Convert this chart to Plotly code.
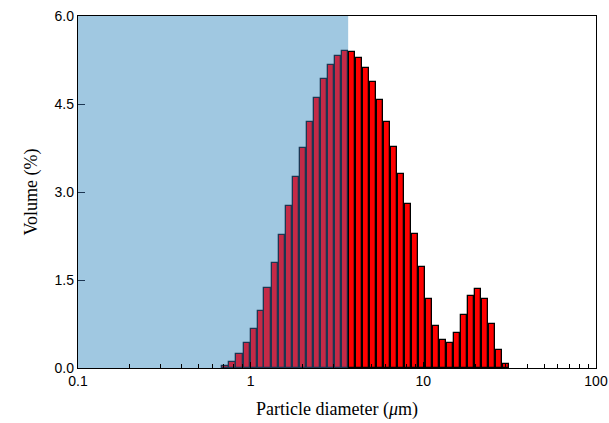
import plotly.graph_objects as go

# Particle size bins (µm, bin centres) and volume fractions (%)
diameters = [0.716, 0.786, 0.863, 0.948, 1.041, 1.143, 1.254, 1.377, 1.512, 1.661,
             1.823, 2.002, 2.198, 2.413, 2.650, 2.909, 3.194, 3.507, 3.850, 4.227,
             4.641, 5.096, 5.595, 6.142, 6.744, 7.404, 8.129, 8.925, 9.800, 10.76,
             11.81, 12.97, 14.24, 15.63, 17.17, 18.85, 20.69, 22.72, 24.95, 27.39, 30.08]
volume = [0.03, 0.11, 0.24, 0.43, 0.67, 0.97, 1.36, 1.79, 2.26, 2.76,
          3.26, 3.75, 4.20, 4.60, 4.92, 5.16, 5.32, 5.40, 5.38, 5.28,
          5.11, 4.88, 4.57, 4.19, 3.77, 3.30, 2.80, 2.28, 1.73, 1.18,
          0.72, 0.48, 0.43, 0.59, 0.91, 1.22, 1.35, 1.18, 0.75, 0.31, 0.06]
shade_limit = 3.67   # upper edge of the shaded (fine) region, µm
x_tick_labels = ["0.1", "1", "10", "100"]
y_tick_labels = ["0.0", "1.5", "3.0", "4.5", "6.0"]

# bin ratio between neighbouring bins (log-spaced), bars fill 90 % of a bin
ratio = diameters[1] / diameters[0]
half = ratio ** 0.45
lo = [d / half for d in diameters]
hi = [d * half for d in diameters]
widths = [h - l for l, h in zip(lo, hi)]

fill = ["#C42A47" if d < shade_limit else "#FF0000" for d in diameters]
edge = ["#1C3652" if d < shade_limit else "#000000" for d in diameters]

fig = go.Figure()
fig.add_trace(go.Bar(
    x=lo, y=volume, width=widths, offset=0,
    marker=dict(color=fill, line=dict(color=edge, width=1.3)),
    showlegend=False,
))

fig.add_shape(type="rect", xref="x", yref="y", x0=0.1, x1=shade_limit, y0=0, y1=6,
              fillcolor="#A0C8E1", line=dict(width=0), layer="below")

fig.update_layout(
    width=609, height=423,
    margin=dict(l=78, r=13, t=16, b=55),
    plot_bgcolor="white", paper_bgcolor="white",
    bargap=0,
    font=dict(family="Liberation Sans, Arial", size=14, color="black"),
)
fig.update_xaxes(
    type="log", range=[-1, 2], automargin=False,
    tickvals=[0.1, 1, 10, 100], ticktext=x_tick_labels,
    ticks="inside", ticklen=6, tickcolor="black",
    minor=dict(ticks="inside", ticklen=4, tickcolor="black", dtick="D1", showgrid=False),
    showline=True, linecolor="black", linewidth=1.3, mirror=True,
    showgrid=False, zeroline=False,
    tickfont=dict(family="Liberation Sans, Arial", size=14),
    title=dict(text="Particle diameter (<i>μ</i>m)",
               font=dict(family="Liberation Serif, Times New Roman", size=18), standoff=14),
)
fig.update_yaxes(
    range=[0, 6], automargin=False,
    tickvals=[0, 1.5, 3.0, 4.5, 6.0], ticktext=y_tick_labels,
    ticks="inside", ticklen=7, tickcolor="#1C3652",
    showline=True, linecolor="black", linewidth=1.3, mirror=True,
    showgrid=False, zeroline=False,
    tickfont=dict(family="Liberation Sans, Arial", size=14),
    title=dict(text="Volume (%)",
               font=dict(family="Liberation Serif, Times New Roman", size=18), standoff=12),
)

fig.write_html("out.html")
